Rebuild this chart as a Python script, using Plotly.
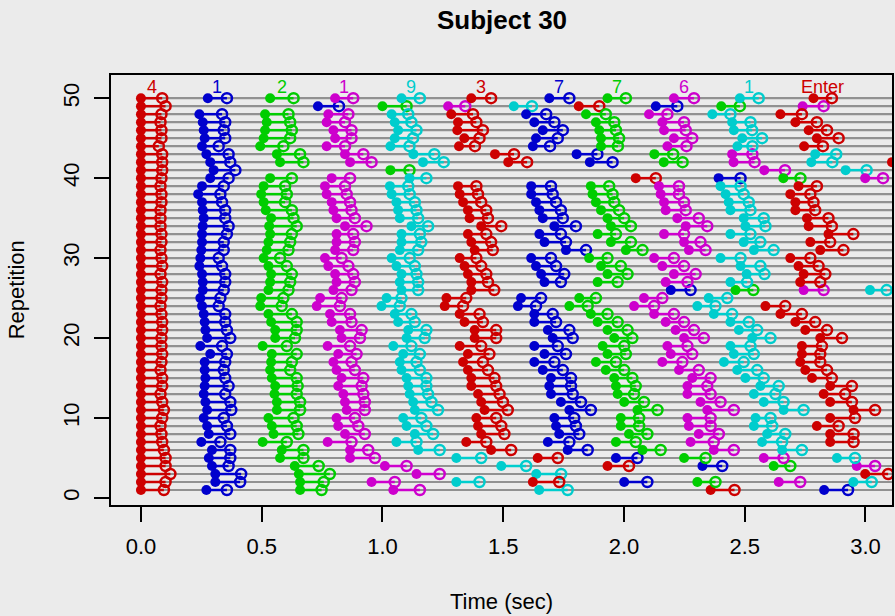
import plotly.graph_objects as go

# ---------------- data (seconds), rows are repetitions 1..50 ----------------
reps = list(range(1, 51))
keys = ["4", "1", "2", "1", "9", "3", "7", "7", "6", "1", "Enter"]
key_colors = ["#CD0000", "#0000CD", "#00CD00", "#CD00CD", "#00CDCD",
              "#CD0000", "#0000CD", "#00CD00", "#CD00CD", "#00CDCD", "#CD0000"]
N = None

k1_press = [0.0, 0.0, 0.0, 0.0, 0.0, 0.0, 0.0, 0.0, 0.0, 0.0,
            0.0, 0.0, 0.0, 0.0, 0.0, 0.0, 0.0, 0.0, 0.0, 0.0,
            0.0, 0.0, 0.0, 0.0, 0.0, 0.0, 0.0, 0.0, 0.0, 0.0,
            0.0, 0.0, 0.0, 0.0, 0.0, 0.0, 0.0, 0.0, 0.0, 0.0,
            0.0, 0.0, 0.0, 0.0, 0.0, 0.0, 0.0, 0.0, 0.0, 0.0]
k1_release = [.095, .102, .122, .102, .102, .095, .088, .085, .081, .088,
              .095, .088, .081, .088, .088, .081, .085, .088, .085, .085,
              .088, .088, .085, .081, .085, .085, .088, .081, .088, .085,
              .081, .085, .085, .081, .081, .081, .085, .085, .081, .085,
              .088, .088, .088, .074, .085, .085, .081, .085, .102, .088]

k2_press = [.271, .308, .308, .294, .281, .294, .250, .281, .274, .260,
            .274, .267, .260, .264, .267, .264, .264, .287, .246, .274,
            .267, .264, .260, .253, .246, .256, .256, .253, .242, .246,
            .250, .253, .253, .256, .260, .256, .253, .237, .253, .287,
            .301, .287, .271, .253, .264, .260, .256, .242, .733, .277]
k2_release = [.356, .411, .415, .363, .370, .370, .329, .370, .356, .343,
              .374, .370, .349, .363, .349, .343, .349, .356, .336, .370,
              .356, .349, .349, .322, .329, .343, .349, .349, .336, .322,
              .343, .343, .356, .363, .349, .349, .336, .329, .343, .363,
              .391, .370, .363, .322, .349, .343, .349, .336, .820, .356]

k3_press = [.659, .659, .654, .637, .576, .583, .504, .549, .542, .528,
            .563, .563, .553, .556, .542, .535, .539, .542, .504, .556,
            .556, .539, .528, .494, .498, .528, .535, .539, .528, .508,
            .521, .528, .535, .531, .539, .517, .508, .498, .508, .535,
            1.033, .576, .563, .494, .508, .514, .521, .514, 1.000, .535]
k3_release = [.748, .757, .782, .736, .673, .673, .604, .652, .645, .632,
              .659, .659, .645, .649, .645, .618, .625, .645, .604, .638,
              .645, .645, .625, .583, .590, .611, .618, .625, .604, .576,
              .611, .618, .625, .645, .632, .625, .597, .604, .597, .625,
              1.112, .673, .659, .590, .618, .625, .618, .611, 1.100, .632]

k4_press = [1.045, .955, 1.141, 1.010, .866, .866, .773, .845, .817, .810,
            .852, .845, .838, .817, .831, .810, .797, .817, .773, .831,
            .824, .790, .783, .728, .742, .797, .810, .804, .776, .762,
            .804, .810, .810, .845, .810, .797, .790, .769, .762, .790,
            2.581, .866, .845, .769, .804, .797, .769, .776, 1.272, .804]
k4_release = [1.155, 1.051, 1.237, 1.100, .969, .941, .872, .927, .900, .886,
              .927, .927, .921, .914, .921, .886, .872, .893, .866, .907,
              .914, .872, .866, .824, .831, .872, .886, .879, .859, .831,
              .879, .886, .879, .934, .886, .872, .866, .852, .845, .866,
              2.667, .955, .921, .845, .872, .872, .845, .859, 1.343, .879]

k5_press = [1.649, 1.306, 1.637, 1.492, 1.306, 1.148, 1.058, 1.134, 1.100, 1.086,
            1.134, 1.127, 1.113, 1.107, 1.100, 1.079, 1.072, 1.086, 1.045, 1.100,
            1.107, 1.065, 1.051, .996, 1.017, 1.079, 1.072, 1.079, 1.058, 1.038,
            1.072, 1.079, 1.079, 1.120, 1.072, 1.065, 1.058, 1.038, 1.031, 1.112,
            2.918, 1.168, 1.128, 1.033, 1.051, 1.065, 1.051, 1.038, 1.544, 1.079]
k5_release = [1.767, 1.402, 1.740, 1.595, 1.409, 1.237, 1.141, 1.210, 1.182, 1.161,
              1.230, 1.203, 1.189, 1.182, 1.182, 1.155, 1.141, 1.155, 1.120, 1.175,
              1.182, 1.134, 1.120, 1.072, 1.079, 1.148, 1.148, 1.141, 1.134, 1.113,
              1.148, 1.161, 1.155, 1.189, 1.148, 1.141, 1.134, 1.113, 1.107, 1.182,
              3.005, 1.254, 1.215, 1.112, 1.127, 1.141, 1.120, 1.107, 1.619, 1.155]

k6_press = [2.359, 1.623, 2.999, 1.932, 1.643, 1.450, 1.347, 1.409, 1.396, 1.389,
            1.423, 1.409, 1.396, 1.368, 1.368, 1.354, 1.334, 1.354, 1.320, 1.382,
            1.382, 1.340, 1.320, 1.258, 1.265, 1.368, 1.368, 1.354, 1.340, 1.320,
            1.382, 1.368, 1.354, 1.409, 1.361, 1.354, 1.334, 1.320, 1.313, 2.049,
            N, 1.521, 1.466, 1.317, 1.339, 1.310, 1.313, 1.285, 1.813, 1.368]
k6_release = [2.458, 1.732, 3.094, 2.021, 1.726, 1.533, 1.430, 1.505, 1.492, 1.471,
              1.519, 1.499, 1.485, 1.471, 1.464, 1.437, 1.416, 1.443, 1.409, 1.471,
              1.471, 1.416, 1.402, 1.334, 1.347, 1.463, 1.437, 1.430, 1.409, 1.389,
              1.457, 1.450, 1.430, 1.492, 1.437, 1.430, 1.409, 1.396, 1.389, 2.132,
              N, 1.599, 1.545, 1.383, 1.402, 1.416, 1.389, 1.375, 1.898, 1.450]

k7_press = [2.829, 2.001, N, 2.325, 1.967, 1.767, 1.685, 1.732, 1.719, 1.712,
            1.774, 1.739, 1.698, 1.691, 1.698, 1.664, 1.629, 1.671, 1.629, 1.705,
            1.685, 1.629, 1.629, 1.561, 1.574, 2.194, 1.671, 1.657, 1.636, 1.616,
            1.760, 1.671, 1.650, 1.712, 1.664, 1.650, 1.636, 1.616, 1.616, 2.392,
            N, 1.859, 1.804, 1.623, 1.636, 1.664, 1.629, 1.595, 2.132, 1.691]
k7_release = [2.928, 2.097, N, 2.407, 2.056, 1.850, 1.774, 1.815, 1.801, 1.794,
              1.863, 1.822, 1.788, 1.781, 1.781, 1.747, 1.712, 1.760, 1.726, 1.788,
              1.774, 1.719, 1.705, 1.636, 1.657, 2.276, 1.739, 1.753, 1.719, 1.698,
              1.843, 1.760, 1.739, 1.801, 1.747, 1.739, 1.719, 1.705, 1.698, 2.483,
              N, 1.953, 1.890, 1.694, 1.726, 1.747, 1.712, 1.678, 2.221, 1.774]

k8_press = [N, 2.304, N, 2.620, 2.249, 2.077, 1.967, 2.021, 1.987, 1.987,
            2.056, 2.001, 1.974, 1.967, 1.960, 1.925, 1.884, 1.932, 1.912, 1.960,
            1.932, 1.891, 1.863, 1.774, 1.815, 2.462, 1.891, 1.932, 1.905, 1.856,
            2.008, 1.946, 1.891, 1.946, 1.932, 1.905, 1.884, 1.870, 1.863, 2.660,
            N, 2.165, 2.126, 1.905, 1.905, 1.898, 1.884, 1.843, 2.403, 1.932]
k8_release = [N, 2.379, N, 2.689, 2.338, 2.152, 2.049, 2.097, 2.063, 2.063,
              2.139, 2.083, 2.042, 2.049, 2.035, 2.001, 1.967, 2.008, 2.001, 2.035,
              2.015, 1.974, 1.932, 1.850, 1.884, 2.536, 1.974, 2.015, 1.987, 1.932,
              2.077, 2.029, 1.967, 2.029, 2.001, 1.980, 1.960, 1.953, 1.939, 2.731,
              N, 2.243, 2.204, 1.975, 1.980, 1.967, 1.960, 1.925, 2.480, 2.008]

k9_press = [N, 2.641, N, 2.964, 2.579, 2.372, 2.276, 2.310, 2.269, 2.263,
            2.345, 2.317, 2.263, 2.263, 2.283, 2.228, 2.159, 2.194, 2.180, 2.249,
            2.214, 2.173, 2.125, 2.042, 2.083, 2.744, 2.173, 2.207, 2.159, 2.125,
            2.269, 2.249, 2.166, 2.256, 2.221, 2.173, 2.166, 2.152, 2.145, 2.999,
            N, 2.454, 2.448, 2.180, 2.207, 2.166, 2.159, 2.104, 2.740, 2.207]
k9_release = [N, 2.730, N, 3.040, 2.661, 2.455, 2.372, 2.393, 2.359, 2.359,
              2.455, 2.400, 2.359, 2.345, 2.359, 2.310, 2.242, 2.283, 2.263, 2.331,
              2.290, 2.249, 2.207, 2.125, 2.159, 2.827, 2.263, 2.297, 2.249, 2.207,
              2.338, 2.317, 2.249, 2.345, 2.310, 2.256, 2.249, 2.228, 2.228, 3.073,
              N, 2.541, 2.532, 2.259, 2.283, 2.256, 2.249, 2.180, 2.827, 2.290]

k10_press = [N, 2.950, N, N, 2.882, 2.655, 2.572, 2.593, 2.538, 2.545,
             2.661, 2.579, 2.538, 2.565, 2.503, 2.469, 2.414, 2.455, 2.441, 2.531,
             2.476, 2.441, 2.372, 2.304, 2.351, 3.019, 2.441, 2.508, 2.483, 2.400,
             2.538, 2.496, 2.441, 2.503, 2.496, 2.441, 2.434, 2.421, 2.400, N,
             N, 2.776, 2.792, 2.470, 2.490, 2.455, 2.448, 2.366, N, 2.480]
k10_release = [N, 3.026, N, N, 2.957, 2.737, 2.655, 2.668, 2.614, 2.607,
               2.744, 2.661, 2.627, 2.641, 2.579, 2.552, 2.496, 2.538, 2.524, 2.607,
               2.552, 2.517, 2.448, 2.379, 2.428, 3.088, 2.510, 2.582, 2.565, 2.483,
               2.620, 2.565, 2.524, 2.586, 2.579, 2.524, 2.517, 2.496, 2.483, N,
               N, 2.863, 2.879, 2.532, 2.572, 2.531, 2.524, 2.441, N, 2.558]

k11_press = [N, N, N, N, N, N, 2.854, 2.854, 2.799, 2.854,
             2.951, 2.854, 2.827, 2.854, 2.779, 2.751, 2.730, 2.737, 2.737, 2.813,
             2.751, 2.710, 2.648, 2.586, N, N, 2.730, 2.744, 2.723, 2.689,
             2.813, 2.772, 2.847, 2.765, 2.758, 2.710, 2.710, 2.689, 2.723, N,
             N, 3.110, N, 2.746, 2.799, 2.765, 2.710, 2.648, N, 2.785]
k11_release = [N, N, N, N, N, N, 2.951, 2.951, 2.889, 2.957,
               3.040, 2.944, 2.916, 2.944, 2.861, 2.841, 2.813, 2.813, 2.820, 2.903,
               2.841, 2.792, 2.737, 2.668, N, N, 2.813, 2.834, 2.806, 2.772,
               2.909, 2.854, 2.950, 2.861, 2.847, 2.792, 2.785, 2.772, 2.799, N,
               N, N, N, 2.824, 2.889, 2.841, 2.799, 2.737, N, 2.861]

press = [k1_press, k2_press, k3_press, k4_press, k5_press, k6_press,
         k7_press, k8_press, k9_press, k10_press, k11_press]
release = [k1_release, k2_release, k3_release, k4_release, k5_release, k6_release,
           k7_release, k8_release, k9_release, k10_release, k11_release]

x_ticks = [0.0, 0.5, 1.0, 1.5, 2.0, 2.5, 3.0]
y_ticks = [0, 10, 20, 30, 40, 50]
x_range = [-0.124, 3.110]
y_range = [-0.876, 52.9]
label_row = 51.4

FONT = "Liberation Sans, Arial, Helvetica, sans-serif"
BG = "#EBEBEB"
GRAY = "#919191"

fig = go.Figure()

# gray baseline for each repetition
gx, gy = [], []
for r in reps:
    gx += [0.0, x_range[1] + 1.0, None]
    gy += [r, r, None]
fig.add_trace(go.Scatter(x=gx, y=gy, mode="lines", line=dict(color=GRAY, width=2.2),
                         hoverinfo="skip", showlegend=False))

for k in range(len(keys)):
    col = key_colors[k]
    sx, sy = [], []
    for i, r in enumerate(reps):
        p, q = press[k][i], release[k][i]
        if p is not None and q is not None:
            sx += [p, q, None]
            sy += [r, r, None]
    fig.add_trace(go.Scatter(x=sx, y=sy, mode="lines", line=dict(color=col, width=2.5),
                             hoverinfo="skip", showlegend=False))
    fig.add_trace(go.Scatter(x=press[k], y=reps, mode="markers",
                             marker=dict(symbol="circle", size=10, color=col, line=dict(width=0)),
                             showlegend=False, name=keys[k] + " press"))
    fig.add_trace(go.Scatter(x=release[k], y=reps, mode="markers",
                             marker=dict(symbol="circle-open", size=10, color=col,
                                         line=dict(width=2.5, color=col)),
                             showlegend=False, name=keys[k] + " release"))

annotations = []
for k in range(len(keys)):
    mid = (press[k][-1] + release[k][-1]) / 2.0
    annotations.append(dict(x=mid, y=label_row, xref="x", yref="y", text=keys[k],
                            showarrow=False, font=dict(family=FONT, size=18, color=key_colors[k]),
                            xanchor="center", yanchor="middle"))
annotations.append(dict(x=0.5, y=-0.2233, xref="paper", yref="paper", text="Time (sec)",
                        showarrow=False, font=dict(family=FONT, size=22, color="black"),
                        xanchor="center", yanchor="middle"))
annotations.append(dict(x=-0.1213, y=0.5, xref="paper", yref="paper", text="Repetition",
                        textangle=-90, showarrow=False,
                        font=dict(family=FONT, size=22, color="black"),
                        xanchor="center", yanchor="middle"))
annotations.append(dict(x=0.5, y=1.1279, xref="paper", yref="paper", text="<b>Subject 30</b>",
                        showarrow=False, font=dict(family=FONT, size=26, color="black"),
                        xanchor="center", yanchor="middle"))

axis_common = dict(showgrid=False, zeroline=False, showline=True, mirror=True,
                   linecolor="black", linewidth=2, ticks="outside", ticklen=15,
                   tickwidth=2, tickcolor="black",
                   tickfont=dict(family=FONT, size=22, color="black"))

fig.update_layout(
    width=895, height=616,
    margin=dict(l=111, r=1, t=75, b=111),
    paper_bgcolor=BG, plot_bgcolor=BG,
    showlegend=False,
    annotations=annotations,
    xaxis=dict(range=x_range, tickvals=x_ticks, ticktext=["%.1f" % v for v in x_ticks],
               ticklabelstandoff=6, **axis_common),
    yaxis=dict(range=y_range, tickvals=y_ticks, ticktext=[str(v) for v in y_ticks],
               tickangle=-90, ticklabelstandoff=6, **axis_common),
)

fig.write_html("out.html",
               config={"displayModeBar": False},
               post_script="document.body.style.margin='0px';"
                           "document.body.style.overflow='hidden';"
                           "document.body.style.background='#EBEBEB';")
